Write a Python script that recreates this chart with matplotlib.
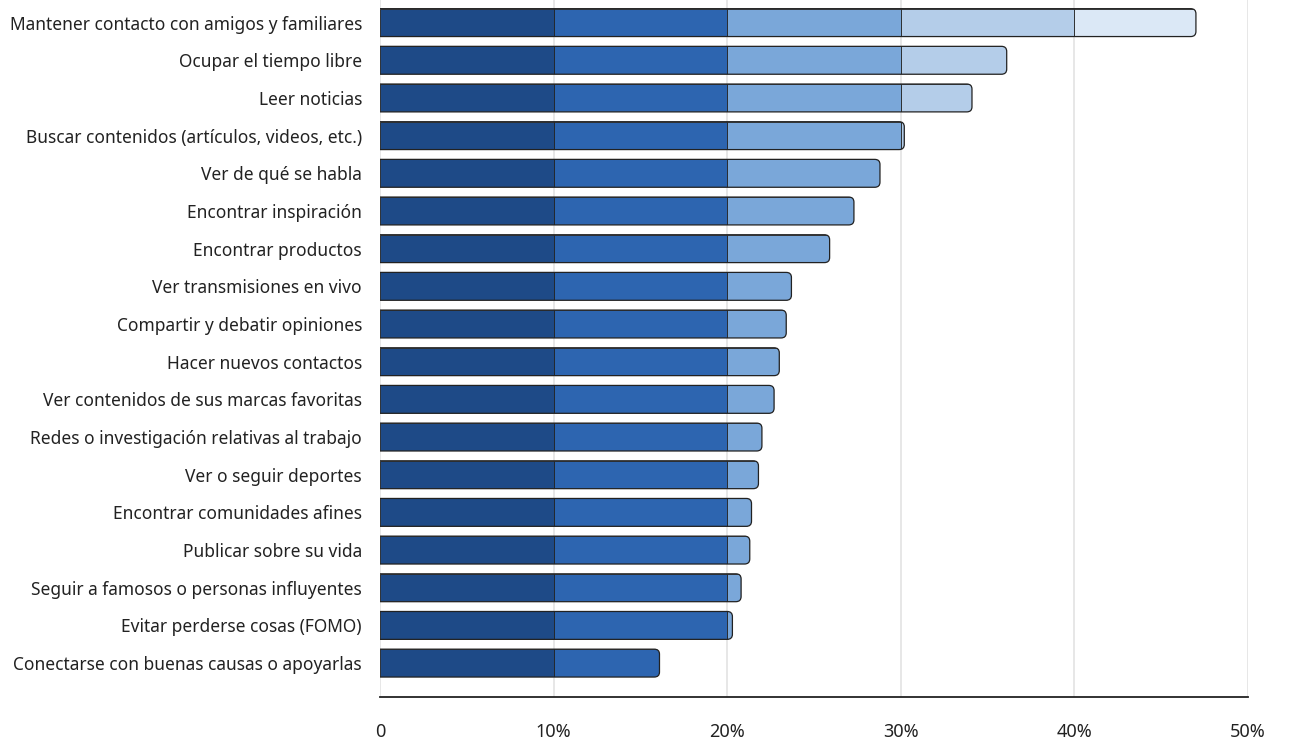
import matplotlib.pyplot as plt
from matplotlib.patches import FancyBboxPatch

labels = [
    "Mantener contacto con amigos y familiares",
    "Ocupar el tiempo libre",
    "Leer noticias",
    "Buscar contenidos (artículos, videos, etc.)",
    "Ver de qué se habla",
    "Encontrar inspiración",
    "Encontrar productos",
    "Ver transmisiones en vivo",
    "Compartir y debatir opiniones",
    "Hacer nuevos contactos",
    "Ver contenidos de sus marcas favoritas",
    "Redes o investigación relativas al trabajo",
    "Ver o seguir deportes",
    "Encontrar comunidades afines",
    "Publicar sobre su vida",
    "Seguir a famosos o personas influyentes",
    "Evitar perderse cosas (FOMO)",
    "Conectarse con buenas causas o apoyarlas",
]
values = [47.0, 36.1, 34.1, 30.2, 28.8, 27.3, 25.9, 23.7, 23.4, 23.0,
          22.7, 22.0, 21.8, 21.4, 21.3, 20.8, 20.3, 16.1]

band_edges = [0, 10, 20, 30, 40, 50]
band_colors = ["#1e4a87", "#2d65b0", "#7aa7d9", "#b4cde9", "#dbe8f6"]
tick_vals = [0, 10, 20, 30, 40, 50]
tick_labels = ["0", "10%", "20%", "30%", "40%", "50%"]

plt.rcParams['font.family'] = ['Noto Sans', 'DejaVu Sans']

fig = plt.figure(figsize=(12.89, 7.43), dpi=100)
ax = fig.add_axes([0.2948, 0.0619, 0.6734, 0.9381])

bar_h = 0.74
edge = "#222222"

for i, v in enumerate(values):
    # rounded outline for the whole bar, left end hidden by the axes clip
    outline = FancyBboxPatch((-1, i - bar_h / 2), v + 1, bar_h,
                             boxstyle="round,pad=0,rounding_size=0.3",
                             mutation_aspect=0.45,
                             facecolor="none", edgecolor=edge,
                             linewidth=0.9, zorder=4)
    ax.add_patch(outline)
    # coloured 10% bands, clipped to the rounded outline
    for k in range(len(band_colors)):
        lo, hi = band_edges[k], min(band_edges[k + 1], v)
        if hi <= lo:
            break
        bars = ax.barh(i, hi - lo, left=lo, height=bar_h,
                       color=band_colors[k], edgecolor=edge,
                       linewidth=0.6, zorder=3)
        for b in bars:
            b.set_clip_path(outline)

ax.set_xlim(0, 50)
ax.set_ylim(len(values) - 0.1, -0.6)

ax.set_yticks(range(len(labels)))
ax.set_yticklabels(labels, fontsize=12.5, color="#222222")
ax.tick_params(axis='y', length=0, pad=13)

ax.set_xticks(tick_vals)
ax.set_xticklabels(tick_labels, fontsize=13, color="#222222")
ax.tick_params(axis='x', length=0, pad=19)

ax.grid(axis='x', color="#e3e3e3", linewidth=1.2, zorder=0)
ax.set_axisbelow(True)

for side in ['top', 'right', 'left']:
    ax.spines[side].set_visible(False)
ax.spines['bottom'].set_color("#222222")
ax.spines['bottom'].set_linewidth(1.3)

fig.savefig("out.png", dpi=100)
